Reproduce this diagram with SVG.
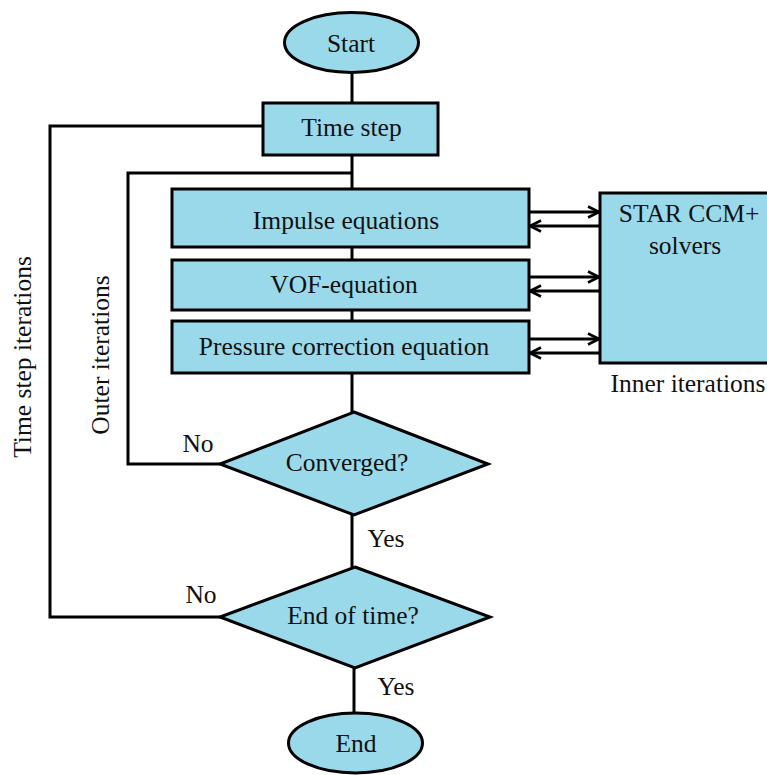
<svg xmlns="http://www.w3.org/2000/svg" width="767" height="775" viewBox="0 0 767 775">
<style>
.shape{fill:#99D9EA;stroke:#000;stroke-width:3}
.ln{fill:none;stroke:#000;stroke-width:3}
text{font-family:'Liberation Serif',Tinos,'Times New Roman',Times,'DejaVu Serif',serif;font-size:25.5px;fill:#111;text-anchor:middle}
</style>
<defs>
<marker id="ah" viewBox="0 0 14 14" refX="12" refY="7" markerWidth="14" markerHeight="14" markerUnits="userSpaceOnUse" orient="auto">
<path d="M1,1.5 L12,7 L1,12.5" fill="none" stroke="#000" stroke-width="2.6"/>
</marker>
</defs>
<rect width="767" height="775" fill="#fff"/>
<g id="connectors">
<line class="ln" x1="352" y1="73" x2="352" y2="103"/>
<line class="ln" x1="352" y1="155" x2="352" y2="189"/>
<line class="ln" x1="352" y1="247" x2="352" y2="260"/>
<line class="ln" x1="352" y1="310" x2="352" y2="321"/>
<line class="ln" x1="352" y1="373" x2="352" y2="412"/>
<line class="ln" x1="352" y1="515" x2="352" y2="567"/>
<line class="ln" x1="354" y1="668" x2="354" y2="713"/>
<polyline class="ln" points="263,126 50,126 50,617 220,617"/>
<polyline class="ln" points="352,173 128,173 128,464 220,464"/>
<line class="ln" x1="529" y1="212" x2="599" y2="212" marker-end="url(#ah)"/>
<line class="ln" x1="600" y1="226" x2="530" y2="226" marker-end="url(#ah)"/>
<line class="ln" x1="529" y1="277" x2="599" y2="277" marker-end="url(#ah)"/>
<line class="ln" x1="600" y1="291" x2="530" y2="291" marker-end="url(#ah)"/>
<line class="ln" x1="529" y1="339" x2="599" y2="339" marker-end="url(#ah)"/>
<line class="ln" x1="600" y1="353" x2="530" y2="353" marker-end="url(#ah)"/>
</g>
<g id="start">
<ellipse class="shape" cx="351.5" cy="42.5" rx="67" ry="30"/>
<text x="351" y="52">Start</text>
</g>
<g id="timestep">
<rect class="shape" x="263" y="103" width="175" height="52"/>
<text x="351.5" y="136">Time step</text>
</g>
<g id="impulse">
<rect class="shape" x="172" y="189" width="357" height="58"/>
<text x="346" y="229">Impulse equations</text>
</g>
<g id="vof">
<rect class="shape" x="172" y="260" width="357" height="50"/>
<text x="344" y="293">VOF-equation</text>
</g>
<g id="pressure">
<rect class="shape" x="172" y="321" width="357" height="52"/>
<text x="344" y="355">Pressure correction equation</text>
</g>
<g id="solvers">
<rect class="shape" x="600" y="193" width="180" height="170"/>
<text x="689" y="222">STAR CCM+</text>
<text x="685" y="254">solvers</text>
<text x="688" y="392">Inner iterations</text>
</g>
<g id="converged">
<polygon class="shape" points="354,412 488,464 354,515 220,464"/>
<text x="347" y="471">Converged?</text>
</g>
<g id="endoftime">
<polygon class="shape" points="355,567 490,617 355,668 220,617"/>
<text x="353" y="624">End of time?</text>
</g>
<g id="end">
<ellipse class="shape" cx="355.5" cy="743" rx="67" ry="30"/>
<text x="356" y="752">End</text>
</g>
<g id="labels">
<text x="198" y="452">No</text>
<text x="201" y="603">No</text>
<text x="386" y="547">Yes</text>
<text x="396" y="695">Yes</text>
<text transform="translate(31,357) rotate(-90)">Time step iterations</text>
<text transform="translate(109,355) rotate(-90)">Outer iterations</text>
</g>
</svg>
